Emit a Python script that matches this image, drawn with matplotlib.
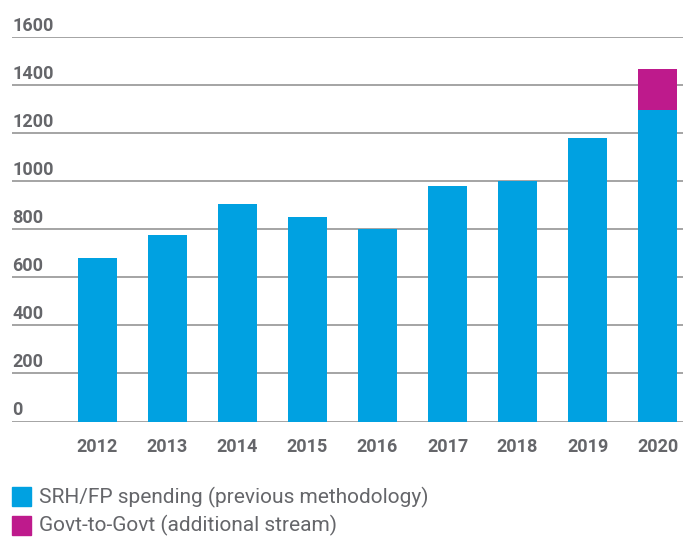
import numpy as np
import matplotlib.pyplot as plt
from matplotlib.patches import Rectangle

# data
years = ['2012', '2013', '2014', '2015', '2016', '2017', '2018', '2019', '2020']
srh_fp = [680, 775, 905, 850, 802, 980, 1002, 1180, 1298]
govt = [0, 0, 0, 0, 0, 0, 0, 0, 170]
yticks = [0, 200, 400, 600, 800, 1000, 1200, 1400, 1600]

blue = '#00A1E1'
magenta = '#BE1A8C'
grey = '#65666A'
font = 'Roboto'

fig = plt.figure(figsize=(6.83, 5.38), dpi=100)
ax = fig.add_axes([12/683, 116.5/538, 671/683, 384.2/538])

x = np.arange(len(years))
ax.bar(x, srh_fp, width=0.557, color=blue, zorder=3)
ax.bar(x, govt, width=0.557, bottom=srh_fp, color=magenta, zorder=3)

ax.set_xlim(-1.221, 8.364)
ax.set_ylim(0, 1600)

#gridlines with labels sitting on top of them
for t in yticks:
    ax.axhline(t, color='#8C8C8C', lw=1.1, zorder=1)
    ax.text(0, t + 27, str(t), transform=ax.get_yaxis_transform(),
            ha='left', va='baseline', fontsize=13, fontweight='bold',
            color=grey, family=font, clip_on=False)

for i, y in enumerate(years):
    ax.text(i, -108, y, ha='center', va='center', fontsize=13,
            fontweight='bold', color=grey, family=font, clip_on=False)

for s in ax.spines.values():
    s.set_visible(False)
ax.set_xticks([])
ax.set_yticks([])

#legend drawn by hand
labels = ['SRH/FP spending (previous methodology)', 'Govt-to-Govt (additional stream)']
cols = [blue, magenta]
for k in range(2):
    top = 487 + 28.5 * k
    fig.patches.append(Rectangle((12/683, 1 - (top + 19)/538), 19/683, 19/538,
                                 transform=fig.transFigure, color=cols[k]))
    fig.text(39/683, 1 - (top + 10)/538, labels[k], ha='left', va='center',
             fontsize=15, color=grey, family=font)

plt.savefig('out.png', dpi=100)
